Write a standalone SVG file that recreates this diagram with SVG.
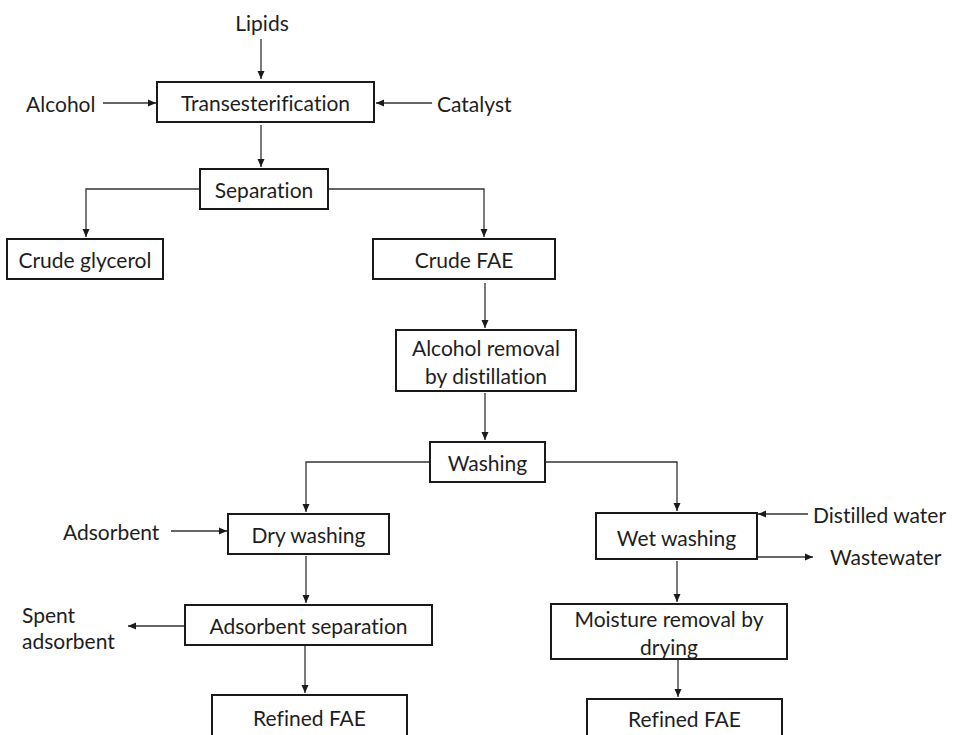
<svg xmlns="http://www.w3.org/2000/svg" width="955" height="735" viewBox="0 0 955 735">
  <style>
    .box { fill: #ffffff; stroke: #1a1a1a; stroke-width: 2; }
    .lbl { font-family: Lato, "Open Sans", sans-serif; font-size: 21px; fill: #1e1e1e; text-anchor: middle; dominant-baseline: central; font-variant-ligatures: none; }
    .side { font-family: Lato, "Open Sans", sans-serif; font-size: 21px; fill: #1e1e1e; dominant-baseline: central; font-variant-ligatures: none; }
    .edge { fill: none; stroke: #333333; stroke-width: 1.3; marker-end: url(#arrow); }
  </style>
  <defs>
    <marker id="arrow" markerUnits="userSpaceOnUse" markerWidth="9" markerHeight="8" refX="8" refY="4" orient="auto">
      <path d="M0,0.5 L8,4 L0,7.5 z" fill="#1a1a1a"/>
    </marker>
  </defs>
  <rect width="955" height="735" fill="#ffffff"/>

  <!-- connectors -->
  <g id="connectors">
    <path class="edge" d="M261,39 V79"/>
    <path class="edge" d="M103,103 H156"/>
    <path class="edge" d="M432,103 H376"/>
    <path class="edge" d="M261,125 V167"/>
    <path class="edge" d="M200,189 H86 V237"/>
    <path class="edge" d="M328,189 H484 V237"/>
    <path class="edge" d="M485,283 V328"/>
    <path class="edge" d="M485,393 V440"/>
    <path class="edge" d="M430,462 H306 V512"/>
    <path class="edge" d="M545,462 H677 V511"/>
    <path class="edge" d="M171,531 H227"/>
    <path class="edge" d="M306,556 V603"/>
    <path class="edge" d="M185,626 H128"/>
    <path class="edge" d="M305,646 V693"/>
    <path class="edge" d="M808,514 H758"/>
    <path class="edge" d="M757,557 H813"/>
    <path class="edge" d="M677,561 V602"/>
    <path class="edge" d="M678,659 V697"/>
  </g>

  <!-- free labels -->
  <g id="inputs">
    <text class="lbl" x="262" y="22">Lipids</text>
    <text class="side" x="26" y="103">Alcohol</text>
    <text class="side" x="437" y="103">Catalyst</text>
    <text class="side" x="63" y="531">Adsorbent</text>
    <text class="side" x="22" y="614">Spent</text>
    <text class="side" x="22" y="640">adsorbent</text>
    <text class="side" x="813" y="514">Distilled water</text>
    <text class="side" x="830" y="556">Wastewater</text>
  </g>

  <g id="transesterification">
    <rect class="box" x="157" y="82" width="217" height="40"/>
    <text class="lbl" x="265.5" y="102">Transesterification</text>
  </g>
  <g id="separation">
    <rect class="box" x="200" y="169" width="128" height="40"/>
    <text class="lbl" x="264" y="189">Separation</text>
  </g>
  <g id="crude-glycerol">
    <rect class="box" x="7" y="239" width="156" height="40"/>
    <text class="lbl" x="85" y="259">Crude glycerol</text>
  </g>
  <g id="crude-fae">
    <rect class="box" x="373" y="239" width="182" height="40"/>
    <text class="lbl" x="464" y="259">Crude FAE</text>
  </g>
  <g id="alcohol-removal">
    <rect class="box" x="396" y="330" width="180" height="61"/>
    <text class="lbl" x="486" y="347">Alcohol removal</text>
    <text class="lbl" x="486" y="375">by distillation</text>
  </g>
  <g id="washing">
    <rect class="box" x="430" y="442" width="115" height="40"/>
    <text class="lbl" x="487.5" y="462">Washing</text>
  </g>
  <g id="dry-washing">
    <rect class="box" x="228" y="514" width="161" height="40"/>
    <text class="lbl" x="308.5" y="534">Dry washing</text>
  </g>
  <g id="adsorbent-separation">
    <rect class="box" x="185" y="605" width="247" height="40"/>
    <text class="lbl" x="308.5" y="625">Adsorbent separation</text>
  </g>
  <g id="refined-fae-dry">
    <rect class="box" x="212" y="695" width="195" height="50"/>
    <text class="lbl" x="309.5" y="717">Refined FAE</text>
  </g>
  <g id="wet-washing">
    <rect class="box" x="596" y="513" width="161" height="46"/>
    <text class="lbl" x="676.5" y="537">Wet washing</text>
  </g>
  <g id="moisture-removal">
    <rect class="box" x="551" y="604" width="236" height="55"/>
    <text class="lbl" x="669" y="618">Moisture removal by</text>
    <text class="lbl" x="669" y="646">drying</text>
  </g>
  <g id="refined-fae-wet">
    <rect class="box" x="587" y="699" width="195" height="50"/>
    <text class="lbl" x="684.5" y="718">Refined FAE</text>
  </g>
</svg>
